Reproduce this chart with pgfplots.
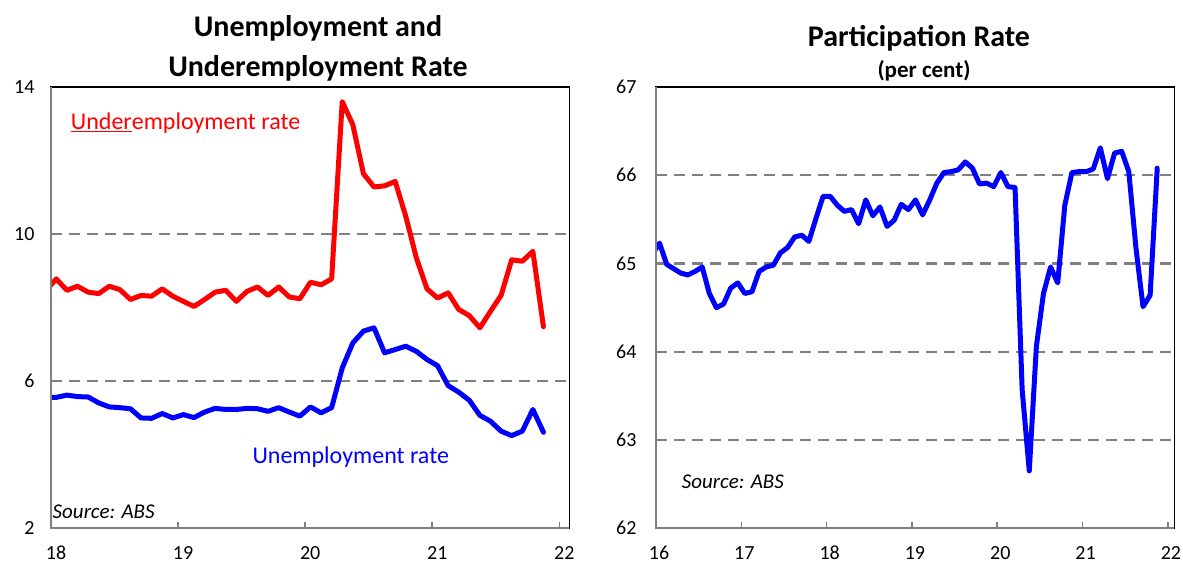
\documentclass[border=0pt]{standalone}
\usepackage{fontspec}
\setmainfont{Carlito}
\usepackage{pgfplots}
\pgfplotsset{compat=1.18}

\pgfplotstableread{
x y
-1 8.46
0 8.78
1 8.47
2 8.58
3 8.42
4 8.38
5 8.58
6 8.49
7 8.22
8 8.33
9 8.31
10 8.51
11 8.31
12 8.17
13 8.03
14 8.22
15 8.42
16 8.47
17 8.17
18 8.44
19 8.56
20 8.33
21 8.56
22 8.29
23 8.24
24 8.69
25 8.62
26 8.78
27 13.60
28 12.97
29 11.64
30 11.28
31 11.31
32 11.43
33 10.48
34 9.35
35 8.51
36 8.26
37 8.40
38 7.95
39 7.78
40 7.45
41 7.90
42 8.33
43 9.30
44 9.26
45 9.53
46 7.48
}\underemp

\pgfplotstableread{
x y
-1 5.55
0 5.56
1 5.62
2 5.58
3 5.57
4 5.41
5 5.30
6 5.28
7 5.25
8 5.00
9 4.99
10 5.12
11 5.00
12 5.09
13 5.01
14 5.16
15 5.26
16 5.23
17 5.23
18 5.26
19 5.25
20 5.18
21 5.28
22 5.16
23 5.05
24 5.30
25 5.14
26 5.28
27 6.36
28 7.04
29 7.36
30 7.45
31 6.77
32 6.86
33 6.95
34 6.81
35 6.59
36 6.42
37 5.88
38 5.70
39 5.48
40 5.07
41 4.91
42 4.64
43 4.52
44 4.64
45 5.23
46 4.61
}\unemp

\pgfplotstableread{
x y
-1 65.11
0 65.23
1 64.99
2 64.94
3 64.89
4 64.87
5 64.91
6 64.96
7 64.66
8 64.50
9 64.54
10 64.72
11 64.78
12 64.66
13 64.68
14 64.91
15 64.96
16 64.98
17 65.12
18 65.18
19 65.30
20 65.32
21 65.25
22 65.51
23 65.76
24 65.76
25 65.66
26 65.59
27 65.61
28 65.45
29 65.72
30 65.54
31 65.64
32 65.42
33 65.49
34 65.67
35 65.61
36 65.72
37 65.55
38 65.72
39 65.91
40 66.03
41 66.04
42 66.06
43 66.15
44 66.08
45 65.90
46 65.91
47 65.87
48 66.03
49 65.87
50 65.86
51 63.57
52 62.65
53 64.06
54 64.66
55 64.96
56 64.78
57 65.66
58 66.03
59 66.04
60 66.04
61 66.07
62 66.31
63 65.96
64 66.25
65 66.27
66 66.04
67 65.18
68 64.51
69 64.64
70 66.08
}\partic

\pgfplotsset{
  panel/.style={
    scale only axis, width=518.3pt, height=441.4pt,
    anchor=south west,
    axis line style={black, line width=1.5pt},
    xtick pos=bottom, xtick align=inside,
    major tick length=6.5pt,
    x tick style={draw=gray, line width=1.6pt},
    y tick style={draw=none},
    tick label style={font=\fontsize{20}{24}\selectfont, text=black},
    xticklabel style={anchor=base, yshift=-31pt, inner sep=0pt},
    extra y tick labels={},
    extra y tick style={grid=major, major tick length=0pt},
    grid style={draw=gray, line width=2.4pt, dash pattern=on 11pt off 7pt},
    every axis plot/.append style={line width=5pt, line join=round, line cap=round},
    after end axis/.code={
      \draw[draw=gray, line width=2pt] (rel axis cs:0,1) -- (rel axis cs:0,0) -- (rel axis cs:1,0);
    },
  }
}

\begin{document}
\begin{tikzpicture}
\useasboundingbox (0,0) rectangle (1183pt,564pt);

\begin{axis}[panel, at={(51pt,35.7pt)},
  xmin=-0.5, xmax=48.44, ymin=2, ymax=14,
  xtick={-0.5,11.5,23.5,35.5,47.5}, xticklabels={18,19,20,21,22},
  ytick={2,6,10,14}, yticklabels={2,6,10,14},
  extra y ticks={6,10},
  xticklabel style={xshift=5pt},
  yticklabel style={xshift=-13pt}]
\addplot[color=red, no marks] table[x=x,y=y] {\underemp};
\addplot[color=blue, no marks] table[x=x,y=y] {\unemp};
\end{axis}

\begin{axis}[panel, at={(656pt,35.7pt)},
  xmin=-0.5, xmax=72.4, ymin=62, ymax=67,
  xtick={-0.5,11.5,23.5,35.5,47.5,59.5,71.5}, xticklabels={16,17,18,19,20,21,22},
  ytick={62,63,64,65,66,67}, yticklabels={62,63,64,65,66,67},
  extra y ticks={63,64,65,66},
  xticklabel style={xshift=3pt},
  yticklabel style={xshift=-16pt}]
\addplot[color=blue, no marks] table[x=x,y=y] {\partic};
\end{axis}

\node[anchor=base, font=\bfseries\fontsize{30}{36}\selectfont] at (318pt,527pt) {Unemployment and};
\node[anchor=base, font=\bfseries\fontsize{30}{36}\selectfont] at (318pt,487pt) {Underemployment Rate};
\node[anchor=base, font=\bfseries\fontsize{30}{36}\selectfont] at (919pt,517pt) {Participation Rate};
\node[anchor=base, font=\bfseries\fontsize{23}{27}\selectfont] at (924pt,486pt) {(per cent)};

\node[anchor=base west, inner sep=0pt, text=red, font=\fontsize{24}{28}\selectfont] at (70.7pt,434pt) {\underline{Under}employment rate};
\node[anchor=base west, inner sep=0pt, text=blue, font=\fontsize{24}{28}\selectfont] at (252.3pt,100.7pt) {Unemployment rate};
\node[anchor=base west, inner sep=0pt, font=\itshape\fontsize{21}{25}\selectfont] at (52.5pt,45.7pt) {Source: ABS};
\node[anchor=base west, inner sep=0pt, font=\itshape\fontsize{21}{25}\selectfont] at (681.7pt,75.7pt) {Source: ABS};
\end{tikzpicture}
\end{document}
